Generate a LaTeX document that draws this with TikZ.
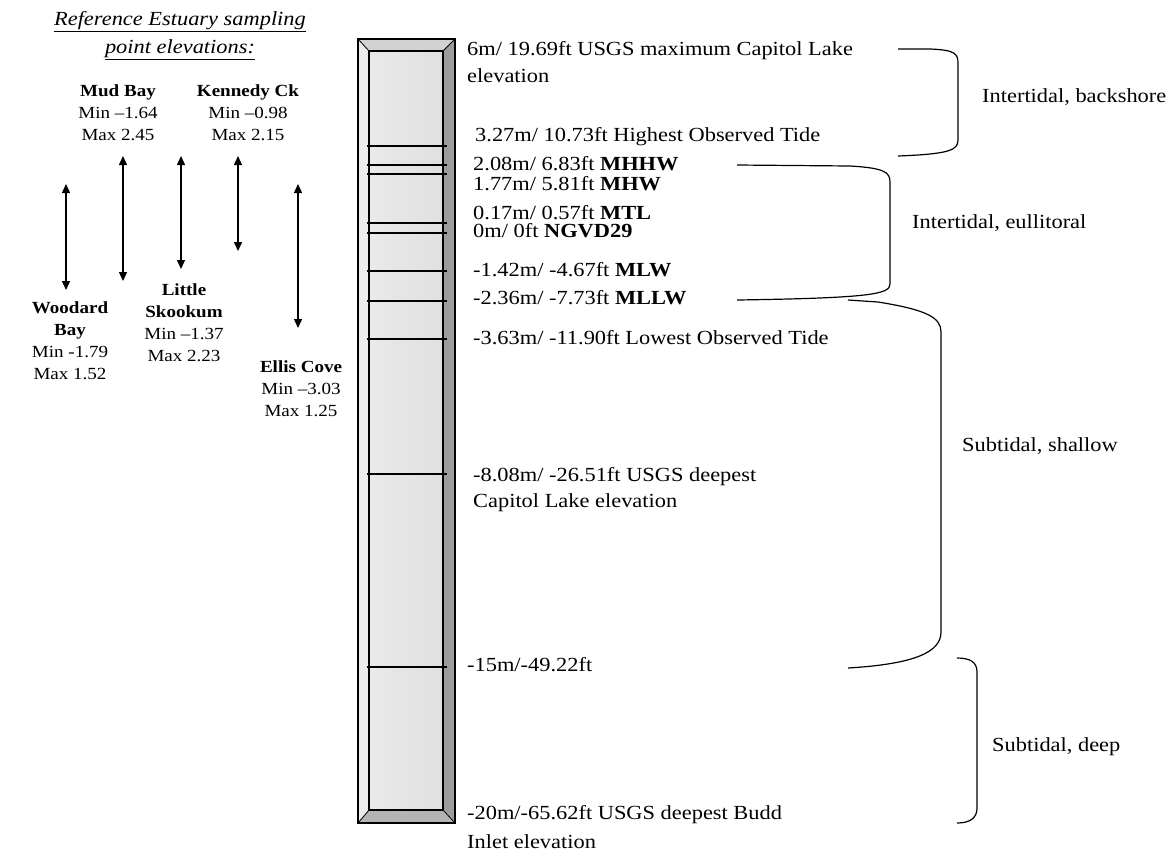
\documentclass[tikz,border=0pt]{standalone}
\usepackage{fontspec}
\setmainfont{Liberation Serif}[FakeStretch=1.12]
\usetikzlibrary{arrows.meta}
\definecolor{bevtop}{HTML}{D2D2D2}
\definecolor{bevleft}{HTML}{ECECEC}
\definecolor{bevright}{HTML}{9C9C9C}
\definecolor{bevbot}{HTML}{B4B4B4}
\definecolor{face}{HTML}{E0E0E0}
\begin{document}
\begin{tikzpicture}[x=1pt,y=-1pt,
  lvl/.style={line width=1.6pt},
  lbl/.style={anchor=west, inner sep=0pt, align=left, font=\fontsize{20}{27}\selectfont},
  site/.style={align=center, inner sep=0pt, font=\fontsize{17}{22}\selectfont},
  zone/.style={anchor=west, inner sep=0pt, font=\fontsize{20}{24}\selectfont},
  brace/.style={line width=1.2pt},
  rng/.style={{Triangle[width=8pt,length=9pt]}-{Triangle[width=8pt,length=9pt]}, line width=1.4pt},
  colline/.style={line width=1.4pt}]
\useasboundingbox (0,0) rectangle (1172,852);
\fill[white] (0,0) rectangle (1172,852);

% ---- title
\node[site, font=\fontsize{20}{28}\selectfont\itshape] (title) at (180,36)
  {\underline{Reference Estuary sampling}\\\underline{point elevations:}};

% ---- site labels
\node[site] (mud) at (118,113) {\textbf{Mud Bay}\\Min –1.64\\Max 2.45};
\node[site] (ken) at (248,113) {\textbf{Kennedy Ck}\\Min –0.98\\Max 2.15};
\node[site] (woo) at (70,341) {\textbf{Woodard}\\\textbf{Bay}\\Min -1.79\\Max 1.52};
\node[site] (lsk) at (184,323) {\textbf{Little}\\\textbf{Skookum}\\Min –1.37\\Max 2.23};
\node[site] (ell) at (301,389) {\textbf{Ellis Cove}\\Min –3.03\\Max 1.25};

% ---- range arrows
\coordinate (wooT) at (66,184);  \coordinate (wooB) at (66,290);
\coordinate (mudT) at (123,156); \coordinate (mudB) at (123,281);
\coordinate (lskT) at (181,156); \coordinate (lskB) at (181,269);
\coordinate (kenT) at (238,156); \coordinate (kenB) at (238,251);
\coordinate (ellT) at (298,184); \coordinate (ellB) at (298,328);
\draw[rng] (wooT) -- (wooB);
\draw[rng] (mudT) -- (mudB);
\draw[rng] (lskT) -- (lskB);
\draw[rng] (kenT) -- (kenB);
\draw[rng] (ellT) -- (ellB);

% ---- column
\fill[bevtop] (358,39) -- (455,39) -- (443,51) -- (369,51) -- cycle;
\fill[bevleft] (358,39) -- (369,51) -- (369,810) -- (358,823) -- cycle;
\fill[bevright] (455,39) -- (455,823) -- (443,810) -- (443,51) -- cycle;
\fill[bevbot] (358,823) -- (455,823) -- (443,810) -- (369,810) -- cycle;
\shade[left color=face!70!white, right color=face] (369,51) rectangle (443,810);
\draw[colline] (358,39) rectangle (455,823);
\draw[colline] (369,51) rectangle (443,810);
\draw[line width=0.8pt] (358,39) -- (369,51) (455,39) -- (443,51)
  (358,823) -- (369,810) (455,823) -- (443,810);
\foreach \yy in {146,165,174,223,233,271,301,339,474,667}
  \draw[lvl] (367,\yy) -- (447,\yy);

% ---- level labels
\node[lbl] (l6) at (467,62.5) {6m/ 19.69ft USGS maximum Capitol Lake\\elevation};
\node[lbl] (l327) at (475,137) {3.27m/ 10.73ft Highest Observed Tide};
\node[lbl] (l208) at (473,164) {2.08m/ 6.83ft \textbf{MHHW}};
\node[lbl] (l177) at (473,184) {1.77m/ 5.81ft \textbf{MHW}};
\node[lbl] (l017) at (473,213) {0.17m/ 0.57ft \textbf{MTL}};
\node[lbl] (l0) at (473,231) {0m/ 0ft \textbf{NGVD29}};
\node[lbl] (l142) at (473,270) {-1.42m/ -4.67ft \textbf{MLW}};
\node[lbl] (l236) at (473,298) {-2.36m/ -7.73ft \textbf{MLLW}};
\node[lbl] (l363) at (473,338) {-3.63m/ -11.90ft Lowest Observed Tide};
\node[lbl, font=\fontsize{20}{26}\selectfont] (l808) at (473,490) {-8.08m/ -26.51ft USGS deepest\\Capitol Lake elevation};
\node[lbl] (l15) at (467,665) {-15m/-49.22ft};
\node[lbl, font=\fontsize{20}{29}\selectfont] (l20) at (467,827) {-20m/-65.62ft USGS deepest Budd\\Inlet elevation};

% ---- zone brackets
\draw[brace] (898,49) -- (930,49) .. controls (956,50) and (958,54) .. (958,64)
  -- (958,140) .. controls (958,150) and (950,154) .. (898,156);
\draw[brace] (737,165) -- (850,166) .. controls (884,168) and (890,172) .. (890,182)
  -- (890,284) .. controls (890,294) and (872,298) .. (737,300);
\draw[brace] (848,300) -- (878,302) .. controls (928,310) and (941,318) .. (941,332)
  -- (941,632) .. controls (941,652) and (915,664) .. (848,668);
\draw[brace] (957,658) .. controls (970,658) and (977,662) .. (977,672)
  -- (977,808) .. controls (977,818) and (970,823) .. (957,823);

% ---- zone labels
\node[zone] (zb) at (982,97) {Intertidal, backshore};
\node[zone] (ze) at (912,223) {Intertidal, eullitoral};
\node[zone] (zs) at (962,446) {Subtidal, shallow};
\node[zone] (zd) at (992,747) {Subtidal, deep};
\end{tikzpicture}
\end{document}
